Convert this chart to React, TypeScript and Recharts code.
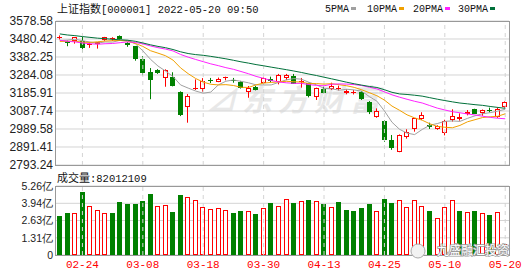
import { ComposedChart, Bar, Line, XAxis, YAxis, CartesianGrid, ReferenceLine } from "recharts";

const dates = [
  "02-21", "02-22", "02-23", "02-24", "02-25", "02-28", "03-01", "03-02", "03-03", "03-04",
  "03-07", "03-08", "03-09", "03-10", "03-11", "03-14", "03-15", "03-16", "03-17", "03-18",
  "03-21", "03-22", "03-23", "03-24", "03-25", "03-28", "03-29", "03-30", "03-31", "04-01",
  "04-06", "04-07", "04-08", "04-11", "04-12", "04-13", "04-14", "04-15", "04-18", "04-19",
  "04-20", "04-21", "04-22", "04-25", "04-26", "04-27", "04-28", "04-29", "05-05", "05-06",
  "05-09", "05-10", "05-11", "05-12", "05-13", "05-16", "05-17", "05-18", "05-19", "05-20",
];

const opens = [
  3488, 3468, 3470, 3471, 3445, 3452, 3474, 3482, 3496, 3461,
  3440, 3371, 3300, 3312, 3265, 3271, 3193, 3111, 3207, 3207,
  3256, 3248, 3268, 3256, 3247, 3190, 3220, 3238, 3262, 3248,
  3266, 3280, 3250, 3239, 3166, 3206, 3210, 3210, 3188, 3190,
  3193, 3135, 3057, 3033, 2930, 2866, 2948, 2988, 3046, 3010,
  2992, 2968, 3036, 3043, 3071, 3098, 3079, 3092, 3054, 3108,
];

const highs = [
  3500, 3472, 3490, 3492, 3462, 3464, 3492, 3490, 3500, 3463,
  3442, 3386, 3322, 3316, 3315, 3299, 3195, 3180, 3260, 3267,
  3268, 3270, 3275, 3268, 3252, 3224, 3225, 3270, 3275, 3290,
  3290, 3290, 3268, 3242, 3215, 3220, 3242, 3226, 3206, 3202,
  3196, 3142, 3102, 3036, 2957, 2960, 2988, 3048, 3081, 3024,
  3010, 3040, 3097, 3075, 3093, 3100, 3096, 3106, 3108, 3140,
];

const lows = [
  3478, 3441, 3455, 3408, 3432, 3428, 3470, 3470, 3478, 3438,
  3362, 3282, 3152, 3290, 3220, 3222, 3060, 3024, 3202, 3193,
  3240, 3245, 3255, 3242, 3210, 3160, 3200, 3230, 3245, 3233,
  3256, 3235, 3215, 3162, 3148, 3185, 3202, 3200, 3179, 3178,
  3148, 3071, 3051, 2920, 2876, 2863, 2937, 2975, 3039, 2990,
  2985, 2955, 3030, 3035, 3064, 3072, 3062, 3080, 3050, 3105,
];

const closes = [
  3490.61, 3457.15, 3489.15, 3429.96, 3451.41, 3462.31, 3488.83, 3484.19, 3481.11, 3447.65,
  3372.86, 3293.53, 3256.39, 3296.09, 3309.75, 3223.53, 3063.97, 3170.71, 3215.04, 3251.07,
  3253.69, 3259.86, 3271.03, 3250.26, 3212.24, 3214.5, 3203.94, 3266.6, 3252.2, 3282.72,
  3283.43, 3236.7, 3251.85, 3167.13, 3213.33, 3186.82, 3225.64, 3211.24, 3195.52, 3194.03,
  3151.05, 3079.81, 3086.92, 2928.51, 2886.43, 2958.28, 2975.48, 3047.06, 3067.76, 3001.56,
  3004.14, 3035.84, 3058.7, 3054.99, 3084.28, 3073.75, 3093.7, 3085.98, 3096.96, 3136,
];

// previous session close (02-18), colours the first volume bar
const prevClose = 3490.76;

// volume in 亿
const volumes = [
  2.98, 3.21, 3.21, 4.81, 3.74, 3.42, 3.21, 3.21, 4.05, 3.9,
  3.9, 4.12, 4.65, 3.74, 3.82, 3.29, 4.58, 4.43, 4.2, 3.67,
  3.52, 3.59, 3.42, 3.21, 3.36, 3.34, 3.14, 3.57, 3.97, 3.74,
  4.25, 3.97, 4.12, 4.2, 4.12, 3.9, 3.67, 4.05, 3.44, 3.36,
  3.59, 3.9, 3.36, 4.27, 3.97, 4.16, 3.67, 4.16, 3.74, 3.36,
  2.81, 3.67, 4.16, 3.36, 3.29, 3.36, 3.21, 3.06, 3.29, 0.82,
];

const ma5 = [
  3472.27, 3474.48, 3479.14, 3471.53, 3463.66, 3458.0, 3464.33, 3463.34, 3473.57, 3472.82,
  3454.93, 3415.87, 3370.31, 3333.3, 3305.72, 3275.86, 3229.95, 3212.81, 3196.6, 3184.86,
  3190.9, 3230.07, 3250.14, 3257.18, 3249.42, 3241.58, 3230.39, 3229.51, 3229.9, 3243.99,
  3257.78, 3264.33, 3261.38, 3244.37, 3230.49, 3211.17, 3208.95, 3200.83, 3206.51, 3202.65,
  3195.5, 3166.33, 3141.47, 3088.06, 3026.54, 2987.99, 2967.12, 2959.15, 2987.0, 3010.03,
  3019.2, 3031.27, 3033.6, 3031.05, 3047.59, 3061.51, 3073.08, 3078.54, 3086.93, 3097.28,
];

const ma10 = [
  3467.17, 3467.62, 3468.54, 3462.94, 3461.79, 3465.13, 3469.41, 3471.24, 3472.55, 3468.24,
  3456.46, 3440.1, 3416.82, 3403.44, 3389.27, 3365.39, 3322.91, 3291.56, 3264.95, 3245.29,
  3233.38, 3230.01, 3231.47, 3226.89, 3217.14, 3216.24, 3230.23, 3239.82, 3243.54, 3246.7,
  3249.68, 3247.36, 3245.44, 3237.13, 3237.24, 3234.47, 3236.64, 3231.11, 3225.44, 3216.57,
  3203.33, 3187.64, 3171.15, 3147.29, 3114.6, 3091.74, 3066.73, 3050.31, 3037.53, 3018.29,
  3003.6, 2999.2, 2996.38, 3009.02, 3028.81, 3040.36, 3052.18, 3056.07, 3058.99, 3072.43,
];

const ma20 = [
  3473.77, 3468.14, 3464.68, 3458.43, 3454.87, 3451.78, 3454.57, 3456.0, 3460.34, 3464.65,
  3461.81, 3453.86, 3442.68, 3433.19, 3425.53, 3415.26, 3396.16, 3381.4, 3368.75, 3356.77,
  3344.92, 3335.06, 3324.15, 3315.16, 3303.21, 3290.82, 3276.57, 3265.69, 3254.25, 3246.0,
  3241.53, 3238.69, 3238.46, 3232.01, 3227.19, 3225.35, 3233.44, 3235.46, 3234.49, 3231.64,
  3226.5, 3217.5, 3208.3, 3192.21, 3175.92, 3163.11, 3151.68, 3140.71, 3131.49, 3117.43,
  3103.46, 3093.42, 3083.76, 3078.16, 3071.7, 3066.05, 3059.45, 3053.19, 3048.26, 3045.36,
];

const ma30 = [
  3508.17, 3502.33, 3498.8, 3493.6, 3489.32, 3484.95, 3482.33, 3478.56, 3476.08, 3473.63,
  3468.0, 3458.79, 3448.73, 3440.1, 3433.0, 3422.99, 3410.68, 3401.18, 3395.21, 3391.53,
  3385.67, 3379.24, 3372.28, 3364.42, 3356.07, 3348.92, 3340.85, 3334.21, 3327.01, 3320.08,
  3313.17, 3305.82, 3297.91, 3289.15, 3281.22, 3272.03, 3263.26, 3254.16, 3244.64, 3236.19,
  3228.8, 3221.67, 3216.02, 3203.77, 3189.66, 3180.82, 3177.87, 3173.75, 3168.84, 3160.52,
  3152.2, 3144.73, 3137.66, 3131.15, 3126.88, 3122.19, 3118.52, 3112.5, 3107.32, 3102.43,
];

const priceTicks = [2793.24, 2891.41, 2989.58, 3087.74, 3185.91, 3284.08, 3382.25, 3480.42, 3578.58];
const volTicks = [0, 1.31, 2.63, 3.94, 5.26];
const dateTicks = ["02-24", "03-08", "03-18", "03-30", "04-13", "04-25", "05-10", "05-20"];

const legendItems = [
  { name: "5PMA", color: "#a0a0a0" },
  { name: "10PMA", color: "#f0a000" },
  { name: "20PMA", color: "#ff22ff" },
  { name: "30PMA", color: "#00703a" },
];

const RED = "#ff0000";
const GREEN = "#008000";
const GRID = "#d4d4d4";
const MONO = "'Liberation Mono', 'Noto Sans CJK SC', monospace";
const SANS = "'Liberation Sans', Arial, sans-serif";

const data = dates.map((date, i) => ({
  date,
  open: opens[i],
  high: highs[i],
  low: lows[i],
  close: closes[i],
  vol: volumes[i],
  volUp: closes[i] > (i === 0 ? prevClose : closes[i - 1]),
  ma5: ma5[i],
  ma10: ma10[i],
  ma20: ma20[i],
  ma30: ma30[i],
}));

const Candle = (props: any) => {
  const { x, y, width, height, payload } = props;
  const { open, close, high, low } = payload;
  const up = close >= open;
  const color = up ? RED : GREEN;
  const toY = (v: number) => y + ((high - v) / (high - low)) * height;
  const left = Math.round(x);
  const w = Math.round(width);
  const cx = left + Math.floor(w / 2) + 0.5;
  const bTop = Math.round(toY(Math.max(open, close)));
  const bBot = Math.round(toY(Math.min(open, close)));
  let body;
  if (bBot - bTop < 2) {
    body = <line x1={left} x2={left + w} y1={bTop + 0.5} y2={bTop + 0.5} stroke={color} />;
  } else if (up) {
    body = <rect x={left + 0.5} y={bTop + 0.5} width={w - 1} height={bBot - bTop - 1} fill="#fff" stroke={color} />;
  } else {
    body = <rect x={left} y={bTop} width={w} height={bBot - bTop} fill={color} />;
  }
  return (
    <g>
      <line x1={cx} x2={cx} y1={y} y2={y + height} stroke={color} />
      {body}
    </g>
  );
};

const VolBar = (props: any) => {
  const { x, y, width, height, payload } = props;
  const left = Math.round(x);
  const w = Math.round(width);
  const top = Math.round(y);
  const bottom = Math.round(y + height);
  if (payload.volUp) {
    return <rect x={left + 0.5} y={top + 0.5} width={w - 1} height={Math.max(bottom - top - 1, 0)} fill="#fff" stroke={RED} />;
  }
  return <rect x={left} y={top} width={w} height={bottom - top} fill={GREEN} />;
};

export default function App() {
  return (
    <div style={{ position: "absolute", left: 0, top: 0, width: 530, height: 276, background: "#fff", overflow: "hidden" }}>
      {/* background watermark */}
      <svg width={530} height={276} style={{ position: "absolute", left: 0, top: 0 }}>
        <text x={206} y={111} fontSize={30} fontWeight={700} fontStyle="italic" fill="#e8e8e8" fontFamily="'Noto Sans CJK SC'" letterSpacing={6}>
          ⊿东方财富
        </text>
      </svg>

      <div style={{ position: "absolute", left: 0, top: 0 }}>
        <ComposedChart width={530} height={176} data={data} margin={{ top: 21, right: 21, bottom: 11, left: 0 }}>
          <CartesianGrid vertical={false} stroke={GRID} />
          <XAxis dataKey="date" hide />
          <YAxis
            domain={[priceTicks[0], priceTicks[priceTicks.length - 1]]}
            ticks={priceTicks}
            interval={0}
            allowDataOverflow
            width={56}
            axisLine={false}
            tickLine={false}
            tickSize={0}
            tickMargin={3}
            tickFormatter={(v: number) => v.toFixed(2)}
            tick={{ fill: "#222", fontSize: 12, fontFamily: SANS }}
          />
          {dateTicks.map((d) => (
            <ReferenceLine key={d} x={d} stroke={GRID} strokeDasharray="4 4" />
          ))}
          <Bar dataKey={(d: any) => [d.low, d.high]} barSize={5} shape={(p: any) => <Candle {...p} />} isAnimationActive={false} />
          <Line dataKey="ma5" stroke={legendItems[0].color} dot={false} strokeWidth={1} isAnimationActive={false} />
          <Line dataKey="ma10" stroke={legendItems[1].color} dot={false} strokeWidth={1} isAnimationActive={false} />
          <Line dataKey="ma20" stroke={legendItems[2].color} dot={false} strokeWidth={1} isAnimationActive={false} />
          <Line dataKey="ma30" stroke={legendItems[3].color} dot={false} strokeWidth={1} isAnimationActive={false} />
        </ComposedChart>
      </div>

      <div style={{ position: "absolute", left: 0, top: 166 }}>
        <ComposedChart width={530} height={110} data={data} margin={{ top: 20, right: 21, bottom: 0, left: 0 }}>
          <CartesianGrid vertical={false} stroke={GRID} />
          <XAxis
            dataKey="date"
            ticks={dateTicks}
            interval={0}
            height={21}
            axisLine={false}
            tickLine={false}
            tickSize={0}
            tickMargin={5}
            tick={{ fill: RED, fontSize: 11, fontFamily: MONO }}
          />
          <YAxis
            domain={[0, 5.26]}
            ticks={volTicks}
            interval={0}
            allowDataOverflow
            width={56}
            axisLine={false}
            tickLine={false}
            tickSize={0}
            tickMargin={3}
            tickFormatter={(v: number) => (v === 0 ? "0" : v.toFixed(2) + "亿")}
            tick={{ fill: "#222", fontSize: 10.5, fontFamily: SANS }}
          />
          {dateTicks.map((d) => (
            <ReferenceLine key={d} x={d} stroke={GRID} strokeDasharray="4 4" />
          ))}
          <Bar dataKey="vol" barSize={5} shape={(p: any) => <VolBar {...p} />} isAnimationActive={false} />
        </ComposedChart>
      </div>

      {/* frames */}
      <div style={{ position: "absolute", left: 55, top: 21, width: 455, height: 145, border: "1px solid #999", boxSizing: "border-box", pointerEvents: "none" }} />
      <div style={{ position: "absolute", left: 55, top: 186, width: 455, height: 70, border: "1px solid #999", boxSizing: "border-box", pointerEvents: "none" }} />

      {/* titles, legend and overlay watermark */}
      <svg width={530} height={276} style={{ position: "absolute", left: 0, top: 0, pointerEvents: "none" }}>
        <text x={57} y={13} fontSize={10.5} fill="#111" fontFamily={MONO}>
          <tspan fontSize={11} fontFamily="'Noto Sans CJK SC'">上证指数</tspan>
          [000001] 2022-05-20 09:50
        </text>
        {legendItems.map((it, i) => {
          const x0 = [325, 367, 413, 458][i];
          const w = it.name.length * 6;
          return (
            <g key={it.name}>
              <text x={x0} y={12} fontSize={10} fill="#111" fontFamily={MONO}>
                {it.name}
              </text>
              <rect x={x0 + w + 2} y={7} width={5} height={3} fill={it.color} />
            </g>
          );
        })}
        <text x={57} y={182} fontSize={10.5} fill="#111" fontFamily={MONO}>
          <tspan fontSize={11} fontFamily="'Noto Sans CJK SC'">成交量</tspan>
          :82012109
        </text>
        <circle cx={418} cy={251} r={7} fill="#f2f2f2" stroke="#aaa" strokeWidth={1} />
        <text x={437} y={255} fontSize={12} fill="#fff" stroke="#999" strokeWidth={1.5} paintOrder="stroke" fontFamily="'Noto Sans CJK SC'">
          九盛融汇投资
        </text>
      </svg>
    </div>
  );
}
